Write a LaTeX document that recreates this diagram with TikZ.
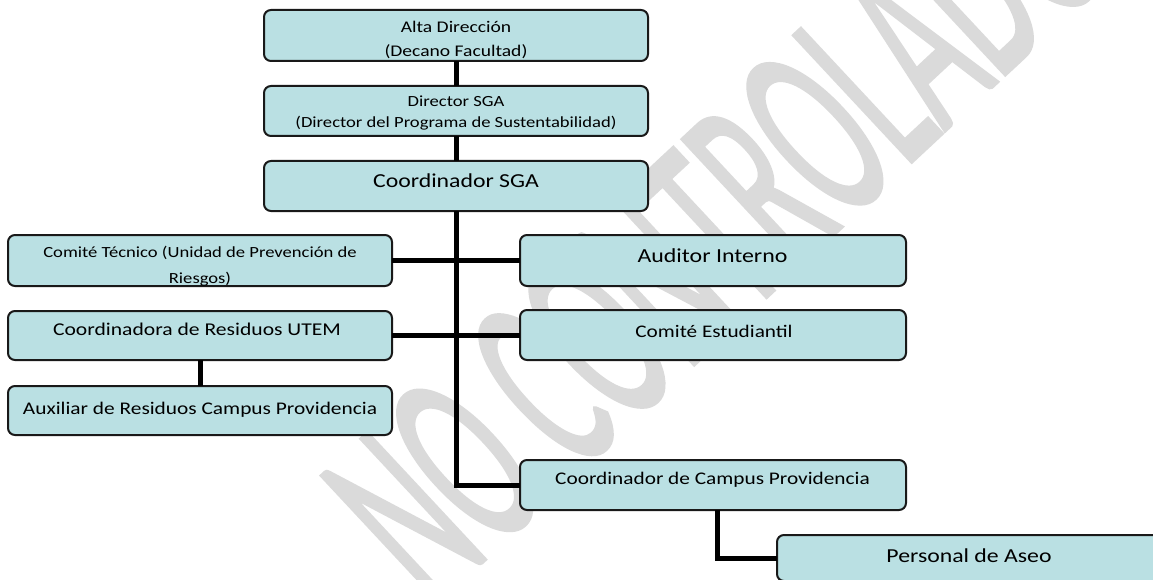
\documentclass[tikz,border=0pt]{standalone}
\usepackage{fontspec}
\setmainfont{Carlito}[FakeStretch=1.2]
\newfontfamily\wmfont{Carlito}[FakeBold=1.5]
\usetikzlibrary{calc}
\definecolor{boxfill}{RGB}{186,224,227}
\definecolor{wmgray}{RGB}{218,218,218}
\begin{document}
\begin{tikzpicture}[x=1pt,y=-1pt,
  box/.style={draw=black!90, line width=2pt, rounded corners=7pt, fill=boxfill, inner sep=0pt, outer sep=0pt},
  conn/.style={line width=5pt, black},
  lbl/.style={anchor=base, inner sep=0pt, outer sep=0pt, text=black},
  fs/.style={font=\fontsize{#1}{#1}\selectfont}]
\useasboundingbox (0,0) rectangle (1153,580);
\fill[white] (0,0) rectangle (1153,580);
% watermark
\node[rotate=43, text=wmgray, inner sep=0pt] (wm) at (716,226)
  {\scalebox{1}[2.1]{\wmfont\fontsize{128}{128}\selectfont NO CONTROLADO}};
% boxes
\node[box, minimum width=384, minimum height=51] (A) at (456,35.5) {};
\node[box, minimum width=384, minimum height=50] (B) at (456,111) {};
\node[box, minimum width=384, minimum height=50] (C) at (456,186) {};
\node[box, minimum width=384, minimum height=51] (D) at (200,260.5) {};
\node[box, minimum width=384, minimum height=49] (E) at (200,335.5) {};
\node[box, minimum width=384, minimum height=49] (F) at (200,410.5) {};
\node[box, minimum width=386, minimum height=51] (G) at (713,260.5) {};
\node[box, minimum width=386, minimum height=50] (H) at (713,335) {};
\node[box, minimum width=386, minimum height=50] (I) at (713,485) {};
\node[box, minimum width=388, minimum height=46] (J) at (971,558) {};
% connectors
\draw[conn] (A.south) -- (B.north);
\draw[conn] (B.south) -- (C.north);
\draw[conn] (C.south) |- (I.west);
\draw[conn] (D.east) -- (D.east -| C.south);
\draw[conn] (G.west) -- (G.west -| C.south);
\draw[conn] (E.east) -- (E.east -| C.south);
\draw[conn] (H.west) -- (H.west -| C.south);
\draw[conn] (E.south) -- (F.north);
\draw[conn] ([xshift=4pt]I.south) |- (J.west);
% texts
\node[lbl, fs=16.3] (tA1) at (456,33) {Alta Dirección};
\node[lbl, fs=16.3] (tA2) at (456,57) {(Decano Facultad)};
\node[lbl, fs=15.5] (tB1) at (456,107) {Director SGA};
\node[lbl, fs=15.5] (tB2) at (456,127.5) {(Director del Programa de Sustentabilidad)};
\node[lbl, fs=19.8] (tC) at (456,187) {Coordinador SGA};
\node[lbl, fs=15.5] (tD1) at (200,257) {Comité Técnico (Unidad de Prevención de};
\begin{scope}
  \clip (D.south west) rectangle (D.north east);
  \node[lbl, fs=15.5] (tD2) at (200,283) {Riesgos)};
\end{scope}
\node[lbl, fs=18] (tE) at (197,335) {Coordinadora de Residuos UTEM};
\node[lbl, fs=17.8] (tF) at (200,414) {Auxiliar de Residuos Campus Providencia};
\node[lbl, fs=19.9] (tG) at (712.5,262) {Auditor Interno};
\node[lbl, fs=17.7] (tH) at (714,337) {Comité Estudiantil};
\node[lbl, fs=17.75] (tI) at (712.5,484) {Coordinador de Campus Providencia};
\node[lbl, fs=19.8] (tJ) at (969,562) {Personal de Aseo};
\end{tikzpicture}
\end{document}
